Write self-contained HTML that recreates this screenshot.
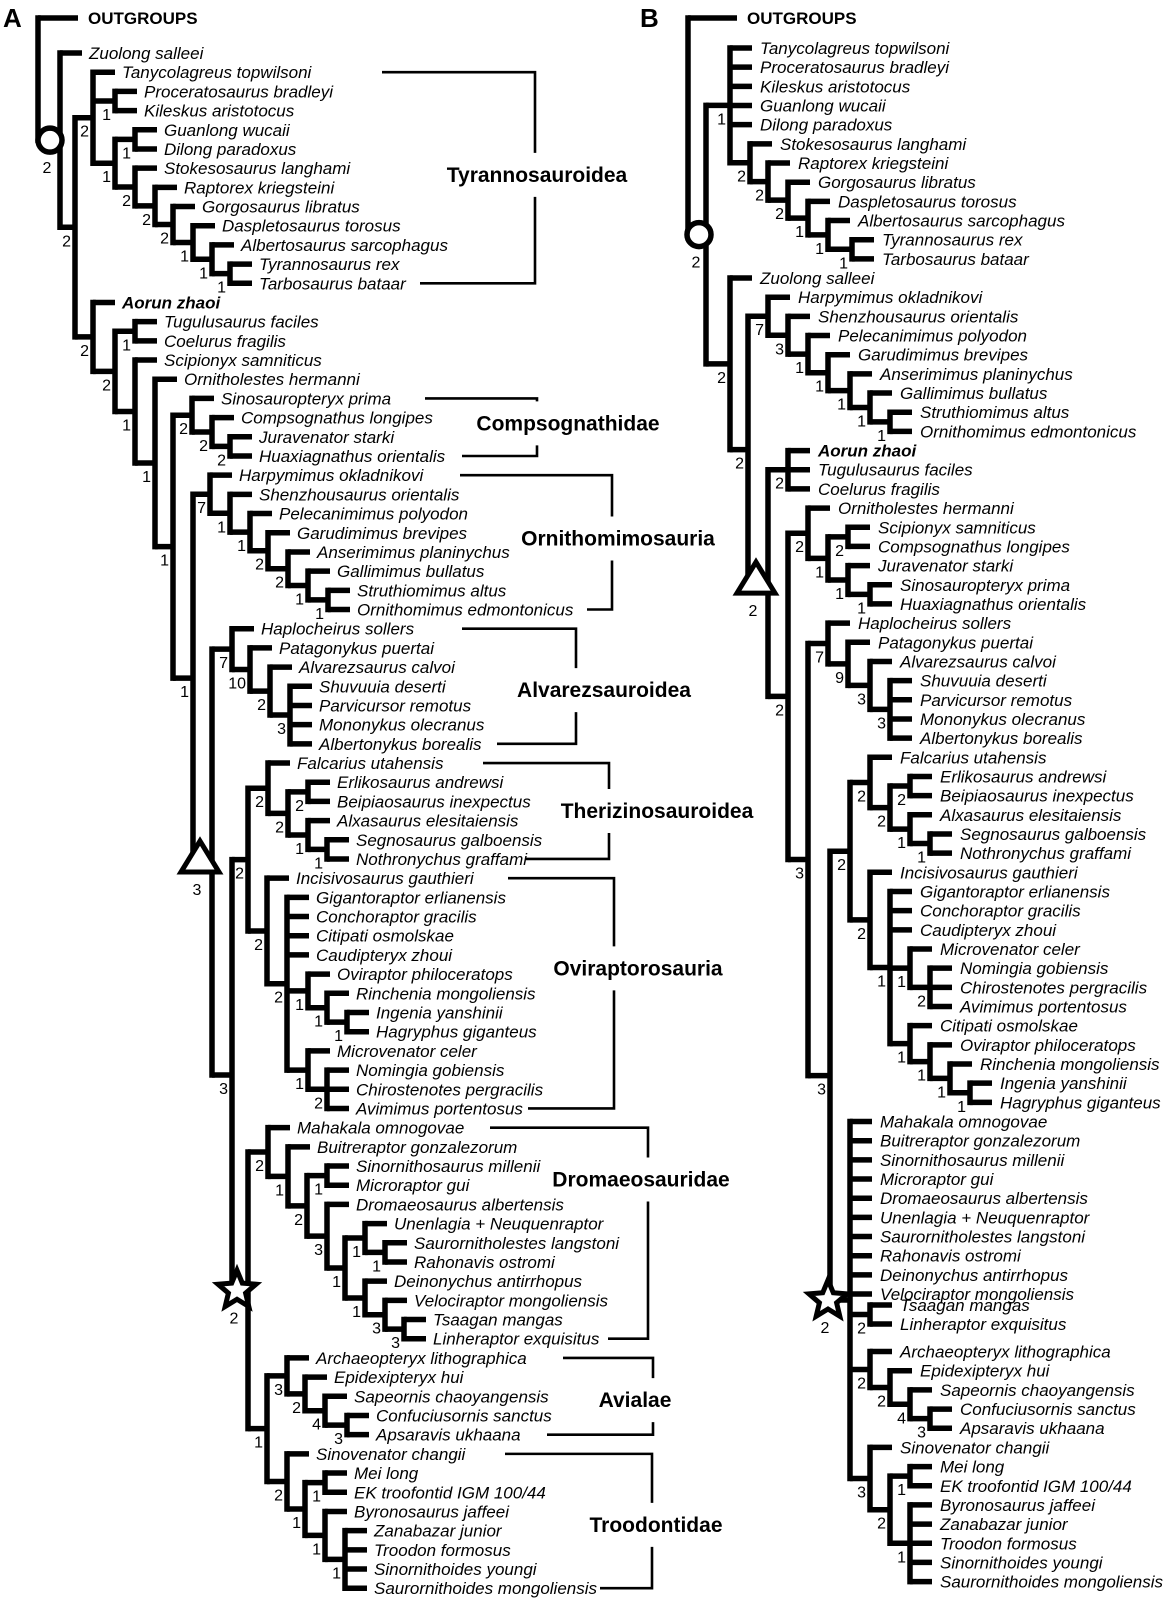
<!DOCTYPE html>
<html><head><meta charset="utf-8">
<style>
html,body{margin:0;padding:0;background:#fff;}
svg{display:block;}
text{font-family:"Liberation Sans",Arial,sans-serif;fill:#000;}
.tip{font-size:17px;font-style:italic;}
.bt{font-weight:bold;}
.og{font-size:17px;font-weight:bold;}
.lb{font-size:16px;}
.cl{font-size:21px;font-weight:bold;}
.pn{font-size:26px;font-weight:bold;}
</style></head>
<body>
<svg id="s" width="1166" height="1599" viewBox="0 0 1166 1599" xmlns="http://www.w3.org/2000/svg">
<text class="pn" x="3" y="27">A</text>
<text class="pn" x="640" y="27">B</text>
<g id="g"></g>
</svg>
<script>
(function(){
var V='',H='',T='',M='';
function esc(s){return s.replace(/&/g,'&amp;').replace(/</g,'&lt;');}
function draw(n,px,st){
 if(typeof n==='string') n={t:n};
 if(n.t!==undefined){
  var y;
  if(n.o){y=n.y;}else{y=(n.y!==undefined)?n.y:st.row(st.i);st.i++;}
  var le=px+(n.o?st.ol:22), tx=px+(n.o?st.ol+10:st.to);
  H+='M'+px+' '+y+'H'+le;
  var cls=n.o?'og':(n.b?'tip bt':'tip');
  T+='<text class="'+cls+'" x="'+tx+'" y="'+(y+6)+'">'+esc(n.t)+'</text>';
  return y;
 }
 var ys=[];
 for(var k=0;k<n.c.length;k++) ys.push(draw(n.c[k],n.x,st));
 var y0=ys[0],y1=ys[ys.length-1],y=(y0+y1)/2;
 V+='M'+n.x+' '+y0+'V'+y1;
 if(px!==null) H+='M'+px+' '+y+'H'+n.x;
 if(n.m){
  var cx=n.mx,cy=y;
  if(n.m==='circle') M+='<circle cx="'+cx+'" cy="'+cy+'" r="12" fill="#fff" stroke="#000" stroke-width="5.5"/>';
  else if(n.m==='tri') M+='<polygon points="'+cx+','+(cy-21)+' '+(cx+19)+','+(cy+10)+' '+(cx-19)+','+(cy+10)+'" fill="#fff" stroke="#000" stroke-width="5" stroke-linejoin="miter"/>';
  else {var p=[];for(var i=0;i<10;i++){var r=i%2?9:20,a=-Math.PI/2+i*Math.PI/5;p.push((cx+r*Math.cos(a)).toFixed(1)+','+(cy+r*Math.sin(a)).toFixed(1));}
   M+='<polygon points="'+p.join(' ')+'" fill="#fff" stroke="#000" stroke-width="5" stroke-linejoin="miter"/>';}
  if(n.l) T+='<text class="lb" text-anchor="middle" x="'+(cx-3)+'" y="'+(cy+33)+'">'+n.l+'</text>';
 } else if(n.l){
  T+='<text class="lb" text-anchor="end" x="'+(n.x-4)+'" y="'+(y+19)+'">'+n.l+'</text>';
 }
 return y;
}
var A={x:38,c:[{t:'OUTGROUPS',o:1,y:18},
 {x:60,m:'circle',mx:50,l:'2',c:['Zuolong salleei',
  {x:75,l:'2',c:[
   {x:93,l:'2',c:['Tanycolagreus topwilsoni',{x:115,l:'1',c:['Proceratosaurus bradleyi','Kileskus aristotocus']},
    {x:115,l:'1',c:[{x:135,l:'1',c:['Guanlong wucaii','Dilong paradoxus']},
     {x:135,l:'2',c:['Stokesosaurus langhami',{x:155,l:'2',c:['Raptorex kriegsteini',{x:173,l:'2',c:['Gorgosaurus libratus',{x:193,l:'1',c:['Daspletosaurus torosus',{x:212,l:'1',c:['Albertosaurus sarcophagus',{x:230,l:'1',c:['Tyrannosaurus rex','Tarbosaurus bataar']}]}]}]}]}]}]}]},
   {x:93,l:'2',c:[{t:'Aorun zhaoi',b:1},
    {x:115,l:'2',c:[{x:135,l:'1',c:['Tugulusaurus faciles','Coelurus fragilis']},
     {x:135,l:'1',c:['Scipionyx samniticus',{x:155,l:'1',c:['Ornitholestes hermanni',
      {x:173,l:'1',c:[
       {x:192,l:'2',c:['Sinosauropteryx prima',{x:212,l:'2',c:['Compsognathus longipes',{x:230,l:'2',c:['Juravenator starki','Huaxiagnathus orientalis']}]}]},
       {x:193,l:'1',c:[
        {x:210,l:'7',c:['Harpymimus okladnikovi',{x:230,l:'1',c:['Shenzhousaurus orientalis',{x:250,l:'1',c:['Pelecanimimus polyodon',{x:268,l:'2',c:['Garudimimus brevipes',{x:288,l:'2',c:['Anserimimus planinychus',{x:308,l:'1',c:['Gallimimus bullatus',{x:328,l:'1',c:['Struthiomimus altus','Ornithomimus edmontonicus']}]}]}]}]}]}]},
        {x:212,m:'tri',mx:200,l:'3',c:[
         {x:232,l:'7',c:['Haplocheirus sollers',{x:250,l:'10',c:['Patagonykus puertai',{x:270,l:'2',c:['Alvarezsaurus calvoi',{x:290,l:'3',c:['Shuvuuia deserti','Parvicursor remotus','Mononykus olecranus','Albertonykus borealis']}]}]}]},
         {x:232,l:'3',c:[
          {x:248,l:'2',c:[
           {x:268,l:'2',c:['Falcarius utahensis',{x:288,l:'2',c:[{x:308,l:'2',c:['Erlikosaurus andrewsi','Beipiaosaurus inexpectus']},{x:308,l:'1',c:['Alxasaurus elesitaiensis',{x:327,l:'1',c:['Segnosaurus galboensis','Nothronychus graffami']}]}]}]},
           {x:267,l:'2',c:['Incisivosaurus gauthieri',{x:287,l:'2',c:['Gigantoraptor erlianensis','Conchoraptor gracilis','Citipati osmolskae','Caudipteryx zhoui',
             {x:308,l:'1',c:['Oviraptor philoceratops',{x:327,l:'1',c:['Rinchenia mongoliensis',{x:347,l:'1',c:['Ingenia yanshinii','Hagryphus giganteus']}]}]},
             {x:308,l:'1',c:['Microvenator celer',{x:327,l:'2',c:['Nomingia gobiensis','Chirostenotes pergracilis','Avimimus portentosus']}]}]}]}]},
          {x:248,m:'star',mx:237,l:'2',c:[
           {x:268,l:'2',c:['Mahakala omnogovae',{x:288,l:'1',c:['Buitreraptor gonzalezorum',{x:307,l:'2',c:[{x:327,l:'1',c:['Sinornithosaurus millenii','Microraptor gui']},
             {x:327,l:'3',c:['Dromaeosaurus albertensis',{x:345,l:'1',c:[{x:365,l:'1',c:['Unenlagia + Neuquenraptor',{x:385,l:'1',c:['Saurornitholestes langstoni','Rahonavis ostromi']}]},
              {x:365,l:'1',c:['Deinonychus antirrhopus',{x:385,l:'3',c:['Velociraptor mongoliensis',{x:404,l:'3',c:['Tsaagan mangas','Linheraptor exquisitus']}]}]}]}]}]}]}]},
           {x:267,l:'1',c:[
            {x:287,l:'3',c:['Archaeopteryx lithographica',{x:305,l:'2',c:['Epidexipteryx hui',{x:325,l:'4',c:['Sapeornis chaoyangensis',{x:347,l:'3',c:['Confuciusornis sanctus','Apsaravis ukhaana']}]}]}]},
            {x:287,l:'2',c:['Sinovenator changii',{x:305,l:'1',c:[{x:325,l:'1',c:['Mei long','EK troofontid IGM 100/44']},{x:325,l:'1',c:['Byronosaurus jaffeei',{x:345,l:'1',c:['Zanabazar junior','Troodon formosus','Sinornithoides youngi','Saurornithoides mongoliensis']}]}]}]}]}]}]}]}]}]}]}]}]}]}]}]}]};
var B={x:688,c:[{t:'OUTGROUPS',o:1,y:18},
 {x:706,m:'circle',mx:699,l:'2',c:[
  {x:730,l:'1',c:['Tanycolagreus topwilsoni','Proceratosaurus bradleyi','Kileskus aristotocus','Guanlong wucaii','Dilong paradoxus',
   {x:750,l:'2',c:['Stokesosaurus langhami',{x:768,l:'2',c:['Raptorex kriegsteini',{x:788,l:'2',c:['Gorgosaurus libratus',{x:808,l:'1',c:['Daspletosaurus torosus',{x:828,l:'1',c:['Albertosaurus sarcophagus',{x:852,l:'1',c:['Tyrannosaurus rex','Tarbosaurus bataar']}]}]}]}]}]}]},
  {x:730,l:'2',c:['Zuolong salleei',
   {x:748,l:'2',c:[
    {x:768,l:'7',c:['Harpymimus okladnikovi',{x:788,l:'3',c:['Shenzhousaurus orientalis',{x:808,l:'1',c:['Pelecanimimus polyodon',{x:828,l:'1',c:['Garudimimus brevipes',{x:850,l:'1',c:['Anserimimus planinychus',{x:870,l:'1',c:['Gallimimus bullatus',{x:890,l:'1',c:['Struthiomimus altus','Ornithomimus edmontonicus']}]}]}]}]}]}]},
    {x:768,m:'tri',mx:756,l:'2',c:[
     {x:788,l:'2',c:[{t:'Aorun zhaoi',b:1},'Tugulusaurus faciles','Coelurus fragilis']},
     {x:788,l:'2',c:[
      {x:808,l:'2',c:['Ornitholestes hermanni',{x:828,l:'1',c:[{x:848,l:'2',c:['Scipionyx samniticus','Compsognathus longipes']},{x:848,l:'1',c:['Juravenator starki',{x:870,l:'1',c:['Sinosauropteryx prima','Huaxiagnathus orientalis']}]}]}]},
      {x:808,l:'3',c:[
       {x:828,l:'7',c:['Haplocheirus sollers',{x:848,l:'9',c:['Patagonykus puertai',{x:870,l:'3',c:['Alvarezsaurus calvoi',{x:890,l:'3',c:['Shuvuuia deserti','Parvicursor remotus','Mononykus olecranus','Albertonykus borealis']}]}]}]},
       {x:830,l:'3',c:[
        {x:850,l:'2',c:[
         {x:870,l:'2',c:['Falcarius utahensis',{x:890,l:'2',c:[{x:910,l:'2',c:['Erlikosaurus andrewsi','Beipiaosaurus inexpectus']},{x:910,l:'1',c:['Alxasaurus elesitaiensis',{x:930,l:'1',c:['Segnosaurus galboensis','Nothronychus graffami']}]}]}]},
         {x:870,l:'2',c:['Incisivosaurus gauthieri',{x:890,l:'1',c:['Gigantoraptor erlianensis','Conchoraptor gracilis','Caudipteryx zhoui',
           {x:910,l:'1',c:['Microvenator celer',{x:930,l:'2',c:['Nomingia gobiensis','Chirostenotes pergracilis','Avimimus portentosus']}]},
           {x:910,l:'1',c:['Citipati osmolskae',{x:930,l:'1',c:['Oviraptor philoceratops',{x:950,l:'1',c:['Rinchenia mongoliensis',{x:970,l:'1',c:['Ingenia yanshinii','Hagryphus giganteus']}]}]}]}]}]}]},
        {x:850,m:'star',mx:828,l:'2',c:['Mahakala omnogovae','Buitreraptor gonzalezorum','Sinornithosaurus millenii','Microraptor gui','Dromaeosaurus albertensis','Unenlagia + Neuquenraptor','Saurornitholestes langstoni','Rahonavis ostromi','Deinonychus antirrhopus','Velociraptor mongoliensis',
         {x:870,l:'2',c:[{t:'Tsaagan mangas',y:1305},{t:'Linheraptor exquisitus',y:1324}]},
         {x:870,l:'2',c:['Archaeopteryx lithographica',{x:890,l:'2',c:['Epidexipteryx hui',{x:910,l:'4',c:['Sapeornis chaoyangensis',{x:930,l:'3',c:['Confuciusornis sanctus','Apsaravis ukhaana']}]}]}]},
         {x:870,l:'3',c:['Sinovenator changii',{x:890,l:'2',c:[{x:910,l:'1',c:['Mei long','EK troofontid IGM 100/44']},{x:910,l:'1',c:['Byronosaurus jaffeei','Zanabazar junior','Troodon formosus','Sinornithoides youngi','Saurornithoides mongoliensis']}]}]}]}]}]}]}]}]}]}]}]};

var stA={i:0,row:function(i){return 53+19.19*i;},ol:40,to:29};
draw(A,null,stA);
var stB={i:0,row:function(i){return 48+19.17*i;},ol:49,to:30};
draw(B,null,stB);

function ry(r){return 53+19.19*r;}
var br=[['Tyrannosauroidea',1,12,382,420,535,537,6.35],
 ['Compsognathidae',18,21,425,462,537,568,19.3],
 ['Ornithomimosauria',22,29,460,587,612,618,25.3],
 ['Alvarezsauroidea',30,36,462,497,576,604,33.2],
 ['Therizinosauroidea',37,42,483,526,609,657,39.5],
 ['Oviraptorosauria',43,55,508,528,614,638,47.7],
 ['Dromaeosauridae',56,67,490,608,648,641,58.7],
 ['Avialae',68,72,563,547,653,635,70.2],
 ['Troodontidae',73,80,505,600,652,656,76.7]];
var BR='';
br.forEach(function(b){
 var yt=ry(b[1]),yb=ry(b[2]),yl=ry(b[7]);
 BR+='M'+b[3]+' '+yt+'H'+b[5]+'V'+Math.max(yt,yl-22)+'M'+b[5]+' '+Math.min(yb,yl+22)+'V'+yb+'H'+b[4];
 T+='<text class="cl" text-anchor="middle" x="'+b[6]+'" y="'+(yl+7)+'">'+b[0]+'</text>';
});
var out='<path d="'+BR+'" fill="none" stroke="#000" stroke-width="2.6"/>'+
 '<path d="'+V+'" fill="none" stroke="#000" stroke-width="5.5" stroke-linecap="square"/>'+
 '<path d="'+H+'" fill="none" stroke="#000" stroke-width="5.5" stroke-linecap="butt"/>'+M+T;
document.getElementById('g').innerHTML=out;
})();
</script>
</body></html>
